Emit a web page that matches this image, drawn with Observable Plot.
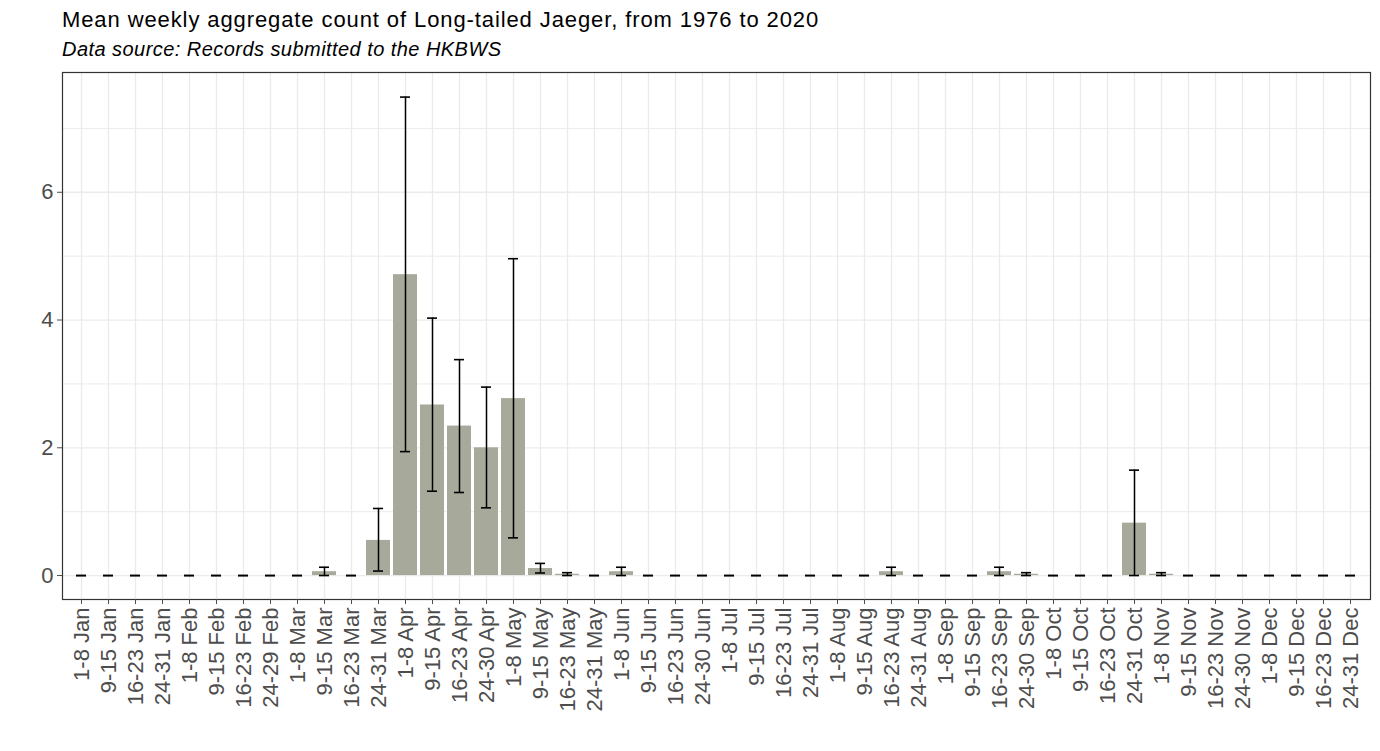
<!DOCTYPE html>
<html><head><meta charset="utf-8">
<script src="https://cdn.jsdelivr.net/npm/d3@7"></script>
<script src="https://cdn.jsdelivr.net/npm/@observablehq/plot@0.6"></script>
<style>
html,body{margin:0;padding:0;background:#fff;}
body{width:1380px;height:751px;overflow:hidden;font-family:"Liberation Sans",Arial,Helvetica,sans-serif;}
#head{position:relative;height:62px;}
#title{position:absolute;left:62px;top:9px;font-size:22px;letter-spacing:0.9px;line-height:1;color:#000;white-space:nowrap;}
#subtitle{position:absolute;left:62px;top:39px;font-size:20px;letter-spacing:0.45px;line-height:1;font-style:italic;color:#000;white-space:nowrap;}
#chart svg{display:block;}
</style></head><body>
<div id="head">
  <div id="title">Mean weekly aggregate count of Long-tailed Jaeger, from 1976 to 2020</div>
  <div id="subtitle">Data source: Records submitted to the HKBWS</div>
</div>
<div id="chart"></div>
<script>
const weeks = [
  "1-8 Jan","9-15 Jan","16-23 Jan","24-31 Jan",
  "1-8 Feb","9-15 Feb","16-23 Feb","24-29 Feb",
  "1-8 Mar","9-15 Mar","16-23 Mar","24-31 Mar",
  "1-8 Apr","9-15 Apr","16-23 Apr","24-30 Apr",
  "1-8 May","9-15 May","16-23 May","24-31 May",
  "1-8 Jun","9-15 Jun","16-23 Jun","24-30 Jun",
  "1-8 Jul","9-15 Jul","16-23 Jul","24-31 Jul",
  "1-8 Aug","9-15 Aug","16-23 Aug","24-31 Aug",
  "1-8 Sep","9-15 Sep","16-23 Sep","24-30 Sep",
  "1-8 Oct","9-15 Oct","16-23 Oct","24-31 Oct",
  "1-8 Nov","9-15 Nov","16-23 Nov","24-30 Nov",
  "1-8 Dec","9-15 Dec","16-23 Dec","24-31 Dec"
];
const means = [
  0,0,0,0, 0,0,0,0, 0,0.06,0,0.55,
  4.71,2.67,2.34,2.00, 2.77,0.11,0.02,0,
  0.06,0,0,0, 0,0,0,0, 0,0,0.06,0,
  0,0,0.06,0.02, 0,0,0,0.82, 0.02,0,0,0, 0,0,0,0
];
const lower = [
  0,0,0,0, 0,0,0,0, 0,0,0,0.07,
  1.94,1.32,1.30,1.06, 0.59,0.04,0,0,
  0,0,0,0, 0,0,0,0, 0,0,0,0,
  0,0,0,0, 0,0,0,0, 0,0,0,0, 0,0,0,0
];
const upper = [
  0,0,0,0, 0,0,0,0, 0,0.13,0,1.05,
  7.49,4.03,3.38,2.95, 4.96,0.19,0.045,0,
  0.13,0,0,0, 0,0,0,0, 0,0,0.13,0,
  0,0,0.13,0.045, 0,0,0,1.65, 0.045,0,0,0, 0,0,0,0
];
const yMajor = [0, 2, 4, 6];
const yMinor = [1, 3, 5, 7];

const data = weeks.map((w, i) => ({week: w, mean: means[i], lo: lower[i], hi: upper[i]}));

const chart = Plot.plot({
  width: 1380,
  height: 689,
  marginTop: 10,
  marginBottom: 152,
  marginLeft: 62,
  marginRight: 10,
  style: {fontFamily: "'Liberation Sans', Arial, sans-serif", fontSize: "22px", color: "#4d4d4d", background: "#fff"},
  x: {domain: weeks, paddingInner: 0.1, paddingOuter: 0.15, label: null},
  y: {domain: [-0.375, 7.875], label: null},
  marks: [
    Plot.ruleY(yMinor, {stroke: "#ebebeb", strokeWidth: 1}),
    Plot.ruleY(yMajor, {stroke: "#ebebeb", strokeWidth: 1.3}),
    Plot.ruleX(weeks, {x: d => d, stroke: "#ebebeb", strokeWidth: 1.3}),
    Plot.barY(data, {x: "week", y: "mean", fill: "#a7a99a"}),
    Plot.ruleX(data, {x: "week", y1: "lo", y2: "hi", stroke: "#000", strokeWidth: 1.5}),
    Plot.tickY(data, {x: "week", y: "lo", stroke: "#000", strokeWidth: 1.6, insetLeft: 7, insetRight: 7}),
    Plot.tickY(data, {x: "week", y: "hi", stroke: "#000", strokeWidth: 1.6, insetLeft: 7, insetRight: 7}),
    Plot.frame({stroke: "#333", strokeWidth: 1.2}),
    Plot.axisX({tickRotate: -90, tickSize: 5, tickPadding: 3, label: null, fontSize: 22}),
    Plot.axisY({ticks: yMajor, tickSize: 5, tickPadding: 4, label: null, fontSize: 22, tickFormat: d3.format("d")})
  ]
});
document.getElementById("chart").appendChild(chart);
</script>
</body></html>
